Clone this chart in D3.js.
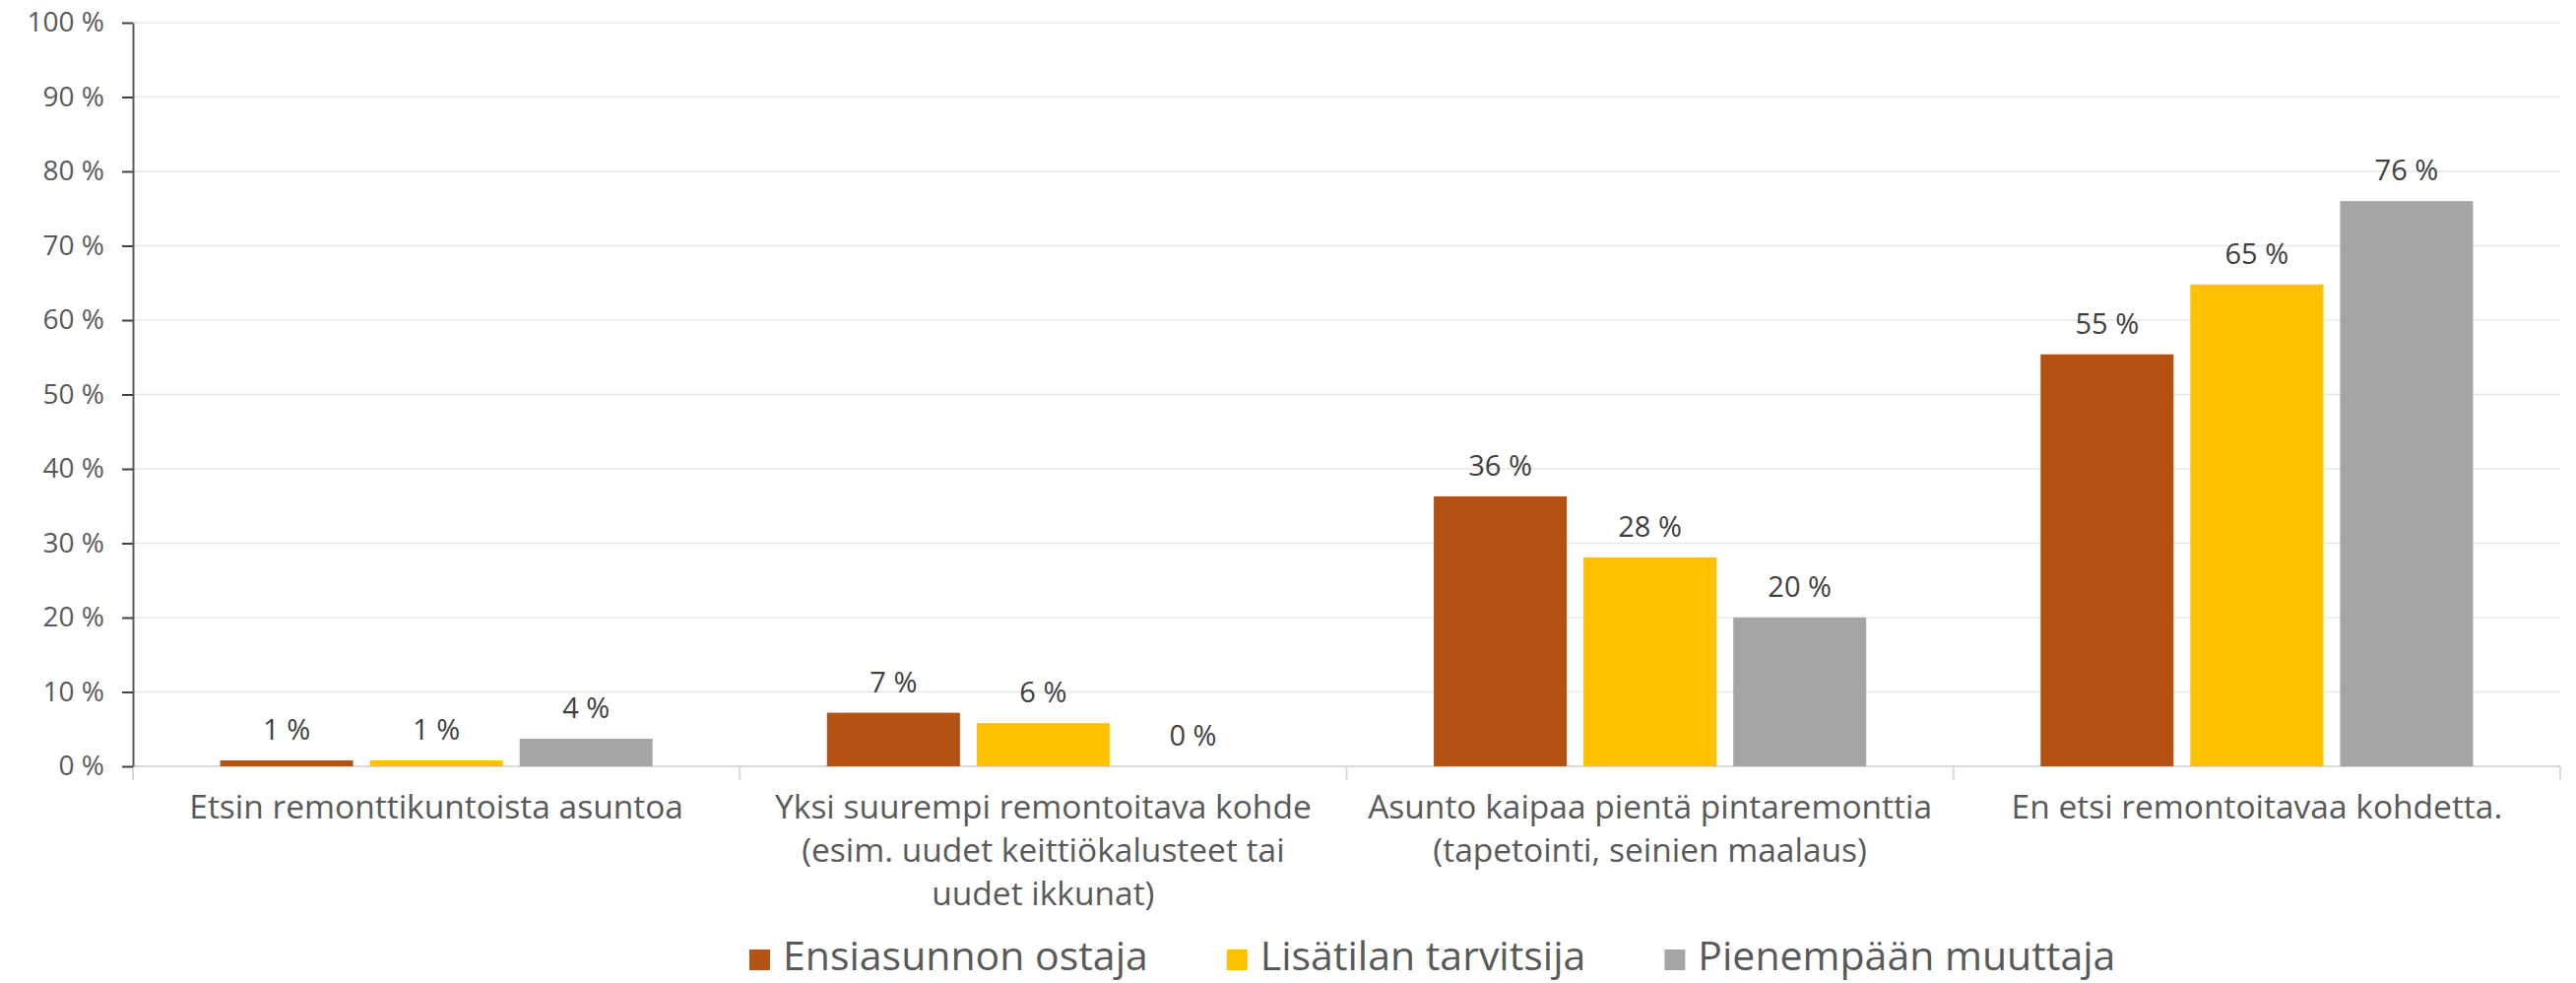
<!DOCTYPE html>
<html><head><meta charset="utf-8">
<script src="https://cdn.jsdelivr.net/npm/d3@7"></script>
<style>
body{margin:0;background:#fff}
svg{display:block;background:#fff}
text{font-family:"Open Sans",sans-serif}
</style>
</head><body>
<svg id="chart" width="2616" height="998"></svg>
<script>
// ---- data ----
const categories = [
  "Etsin remonttikuntoista asuntoa",
  "Yksi suurempi remontoitava kohde (esim. uudet keittiökalusteet tai uudet ikkunat)",
  "Asunto kaipaa pientä pintaremonttia (tapetointi, seinien maalaus)",
  "En etsi remontoitavaa kohdetta."
];
const categoryLines = [
  ["Etsin remonttikuntoista asuntoa"],
  ["Yksi suurempi remontoitava kohde", "(esim. uudet keittiökalusteet tai", "uudet ikkunat)"],
  ["Asunto kaipaa pientä pintaremonttia", "(tapetointi, seinien maalaus)"],
  ["En etsi remontoitavaa kohdetta."]
];
const seriesNames = ["Ensiasunnon ostaja", "Lisätilan tarvitsija", "Pienempään muuttaja"];
const ensiasunnonOstaja = [0.8, 7.2, 36.3, 55.4];
const lisatilanTarvitsija = [0.8, 5.8, 28.1, 64.8];
const pienempaanMuuttaja = [3.7, 0, 20.0, 76.0];
const yTicks = [0, 10, 20, 30, 40, 50, 60, 70, 80, 90, 100];
const seriesColors = ["#B45213", "#FFC000", "#A5A5A5"];

const seriesValues = [ensiasunnonOstaja, lisatilanTarvitsija, pienempaanMuuttaja];

// ---- layout ----
const plotLeft = 135, plotRight = 2600, plotTop = 23, plotBottom = 778;

const svg = d3.select("#chart");

const y = d3.scaleLinear().domain([0, 100]).range([plotBottom, plotTop]);
const x0 = d3.scaleBand().domain(categories).range([plotLeft, plotRight]).padding(0);
const bw = x0.bandwidth();
const outerGap = bw * 0.1437;
const x1 = d3.scaleBand().domain(seriesNames).range([outerGap, bw - outerGap]).paddingInner(0.112).paddingOuter(0);

// gridlines
svg.append("g").selectAll("line").data(yTicks.filter(d => d > 0)).join("line")
  .attr("x1", plotLeft).attr("x2", plotRight)
  .attr("y1", d => y(d)).attr("y2", d => y(d))
  .attr("stroke", "#e6e6e6").attr("stroke-width", 1.5);

// bottom axis line + category separators
const xAxisG = svg.append("g");
xAxisG.append("line")
  .attr("x1", plotLeft).attr("x2", plotRight)
  .attr("y1", y(0)).attr("y2", y(0))
  .attr("stroke", "#d9d9d9").attr("stroke-width", 2);
const boundaries = categories.map(c => x0(c)).concat([x0.range()[1]]);
xAxisG.selectAll("line.sep").data(boundaries).join("line").attr("class", "sep")
  .attr("x1", d => d).attr("x2", d => d)
  .attr("y1", y(0)).attr("y2", y(0) + 14)
  .attr("stroke", "#d9d9d9").attr("stroke-width", 2);

// bars
const rows = [];
categories.forEach((c, ci) => {
  seriesNames.forEach((s, si) => rows.push({c, s, si, v: seriesValues[si][ci]}));
});
const barsG = svg.append("g");
barsG.selectAll("rect").data(rows).join("rect")
  .attr("x", d => x0(d.c) + x1(d.s))
  .attr("width", x1.bandwidth())
  .attr("y", d => y(d.v))
  .attr("height", d => y(0) - y(d.v))
  .attr("fill", d => seriesColors[d.si]);

// data labels
barsG.selectAll("text").data(rows).join("text")
  .attr("x", d => x0(d.c) + x1(d.s) + x1.bandwidth() / 2)
  .attr("y", d => y(d.v) - 21)
  .attr("text-anchor", "middle")
  .attr("font-size", 29)
  .attr("fill", "#404040")
  .text(d => Math.round(d.v) + " %");

// y axis
const yAxis = d3.axisLeft(y).tickValues(yTicks).tickSize(11).tickSizeOuter(0).tickPadding(18)
  .tickFormat(d => d + " %");
const yAxisG = svg.append("g").attr("transform", `translate(${plotLeft},0)`).call(yAxis);
yAxisG.select(".domain").attr("stroke", "#595959").attr("stroke-width", 2);
yAxisG.selectAll(".tick line").attr("stroke", "#404040").attr("stroke-width", 2);
yAxisG.selectAll(".tick text").attr("font-size", 28).attr("fill", "#595959")
  .attr("font-family", "Open Sans, sans-serif");

// category labels (one text element per line)
const catRows = [];
categories.forEach((c, ci) => categoryLines[ci].forEach((line, li) => catRows.push({c, line, li})));
svg.append("g").selectAll("text").data(catRows).join("text")
  .attr("x", d => x0(d.c) + bw / 2)
  .attr("y", d => 831 + d.li * 44)
  .attr("text-anchor", "middle")
  .attr("font-size", 33.5)
  .attr("fill", "#595959")
  .text(d => d.line);

// legend
const legendG = svg.append("g");
let lx = 761;
const legendBaseline = 985;
seriesNames.forEach((s, i) => {
  legendG.append("rect").attr("x", lx).attr("y", legendBaseline - 21).attr("width", 21).attr("height", 21)
    .attr("fill", seriesColors[i]);
  const t = legendG.append("text").attr("x", lx + 34).attr("y", legendBaseline)
    .attr("font-size", 41).attr("fill", "#595959").text(s);
  lx = lx + 34 + t.node().getComputedTextLength() + 80;
});
</script>
</body></html>
